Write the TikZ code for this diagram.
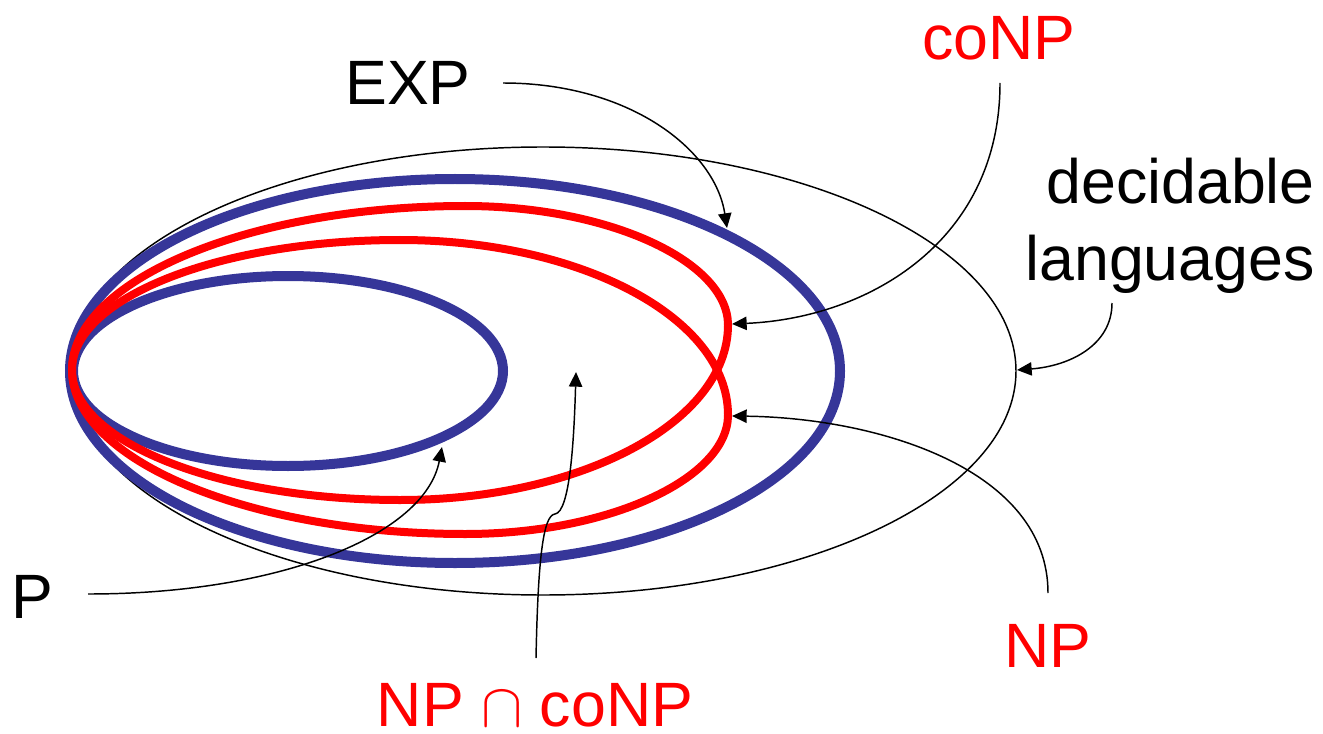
\documentclass[tikz,border=0pt]{standalone}
\usepackage{fontspec}
\setmainfont{Liberation Sans}
\usepackage{tikz}
\usetikzlibrary{arrows.meta,positioning}
\definecolor{expblue}{RGB}{54,54,153}
\definecolor{npred}{RGB}{255,0,0}

\begin{document}
\begin{tikzpicture}[x=0.75pt, y=-0.75pt,
    blueclass/.style={draw=expblue, line width=7.5pt},
    redclass/.style={draw=npred, line width=6pt},
    pointer/.style={line width=1.1pt, -{Triangle[length=11pt,width=10pt]}},
    lbl/.style={inner sep=0pt, anchor=base, font=\fontsize{47}{57.75}\selectfont}]
    \useasboundingbox (0,0) rectangle (1323,734);
    % decidable languages
    \draw[line width=1.1pt] (543,371) ellipse [x radius=473, y radius=224];
    % EXP and P
    \draw[blueclass] (455,371) ellipse [x radius=385, y radius=192];
    \draw[blueclass] (288,371) ellipse [x radius=215, y radius=95];
    % coNP
    \draw[redclass] (72,370) .. controls (72,280) and (250,206) .. (465,206)
        .. controls (610,206) and (728,262) .. (728,325)
        .. controls (728,422) and (581,500) .. (400,500)
        .. controls (219,500) and (72,442) .. (72,370) -- cycle;
    % NP
    \draw[redclass] (72,370) .. controls (72,298) and (219,240) .. (400,240)
        .. controls (581,240) and (728,318) .. (728,415)
        .. controls (728,478) and (610,534) .. (465,534)
        .. controls (250,534) and (72,460) .. (72,370) -- cycle;
    % labels
    \node[lbl] (exp) at (408,105) {EXP};
    \node[lbl, text=npred] (conp) at (999,60) {coNP};
    \node[lbl, anchor=base east, align=right] (dec) at (1315,280) {decidable\\languages};
    \node[lbl] (p) at (32,618) {P};
    \node[lbl, text=npred] (np) at (1048,667) {NP};
    \node[lbl, text=npred] (npconp) at (535,726) {NP \resizebox{31pt}{!}{$\cap$} coNP};
    % pointers
    \coordinate (expFrom) at (503,83);
    \coordinate (expTo) at (727,228);
    \coordinate (conpFrom) at (1000,83);
    \coordinate (conpTo) at (732,324);
    \coordinate (decFrom) at (1112,303);
    \coordinate (decTo) at (1017,370);
    \coordinate (npFrom) at (1048,593);
    \coordinate (npTo) at (732,416);
    \coordinate (pFrom) at (88,594);
    \coordinate (pTo) at (442,447);
    \coordinate (bothFrom) at (536,658);
    \coordinate (bothKink) at (555,514);
    \coordinate (bothTo) at (576,372);
    \draw[pointer] (expFrom) .. controls (630,83) and (715,150) .. (expTo);
    \draw[pointer] (conpFrom) .. controls (1000,240) and (870,318) .. (conpTo);
    \draw[pointer] (decFrom) .. controls (1112,345) and (1070,366) .. (decTo);
    \draw[pointer] (npFrom) .. controls (1048,470) and (880,418) .. (npTo);
    \draw[pointer] (pFrom) .. controls (280,594) and (425,535) .. (pTo);
    \draw[pointer] (bothFrom) .. controls (538,560) and (543,515) .. (bothKink)
        .. controls (570,512) and (574,440) .. (bothTo);
\end{tikzpicture}
\end{document}
